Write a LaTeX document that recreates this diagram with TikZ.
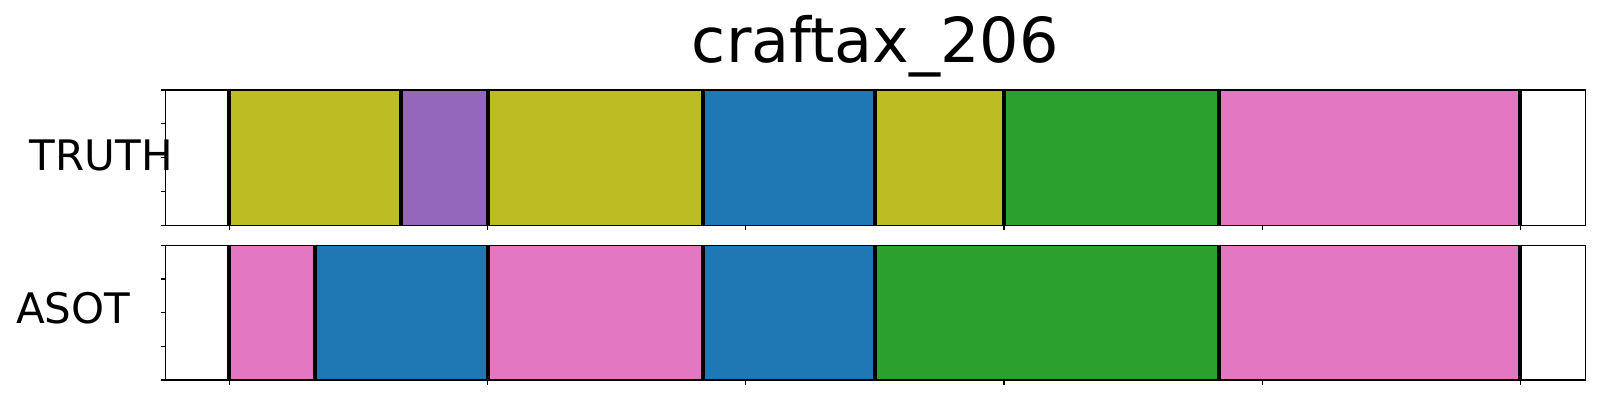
\documentclass[tikz,border=0pt]{standalone}
\usepackage{fontspec}
\setmainfont{DejaVu Sans}
\definecolor{tabolive}{HTML}{BCBD22}
\definecolor{tabpurple}{HTML}{9467BD}
\definecolor{tabblue}{HTML}{1F77B4}
\definecolor{tabgreen}{HTML}{2CA02C}
\definecolor{tabpink}{HTML}{E377C2}
\tikzset{
  seg/.style={fill=#1, draw=none},
  bound/.style={draw=black, line width=1.1pt},
  frame/.style={draw=black, line width=0.35pt},
  tick/.style={draw=black, line width=0.35pt},
  rowlabel/.style={anchor=base west, inner sep=0pt, font=\fontsize{11.95}{14}\selectfont},
  titlelabel/.style={anchor=base, inner sep=0pt, font=\fontsize{17.64}{20}\selectfont}
}
\begin{document}
\begin{tikzpicture}[x=0.01cm, y=-0.01cm]
\useasboundingbox (0,0) rectangle (1600,400);
% top row (TRUTH)
\foreach \a/\b/\c in {229/401.3/tabolive, 401.3/488/tabpurple, 488/703/tabolive, 703/875/tabblue, 875/1004.3/tabolive, 1004.3/1219.3/tabgreen, 1219.3/1520/tabpink}
  \fill[seg=\c] (\a,90) rectangle (\b,225.3);
\foreach \x in {229, 401.3, 488, 703, 875, 1004.3, 1219.3, 1520}
  \draw[bound] (\x,90) -- (\x,225.3);
% bottom row (ASOT)
\foreach \a/\b/\c in {229/314.7/tabpink, 314.7/488/tabblue, 488/703/tabpink, 703/875/tabblue, 875/1219.3/tabgreen, 1219.3/1520/tabpink}
  \fill[seg=\c] (\a,245.3) rectangle (\b,380);
\foreach \x in {229, 314.7, 488, 703, 875, 1219.3, 1520}
  \draw[bound] (\x,245.3) -- (\x,380);
% frames
\draw[frame] (165.3,90) rectangle (1585.3,225.3);
\draw[frame] (165.3,245.3) rectangle (1585.3,380);
% y ticks
\foreach \k in {0,...,4} {
  \draw[tick] (165.3,90+\k*33.825) -- ++(-4.7,0);
  \draw[tick] (165.3,245.3+\k*33.675) -- ++(-4.7,0);
}
% x ticks
\foreach \k in {0,...,5} {
  \draw[tick] (229.3+\k*258.2,225.3) -- ++(0,4.7);
  \draw[tick] (229.3+\k*258.2,380) -- ++(0,4.7);
}
% labels
\node[titlelabel] (title) at (875.3,62.7) {craftax\_206};
\node[rowlabel] (truth) at (29,170) {TRUTH};
\node[rowlabel] (asot) at (15.4,323.3) {ASOT};
\end{tikzpicture}
\end{document}
